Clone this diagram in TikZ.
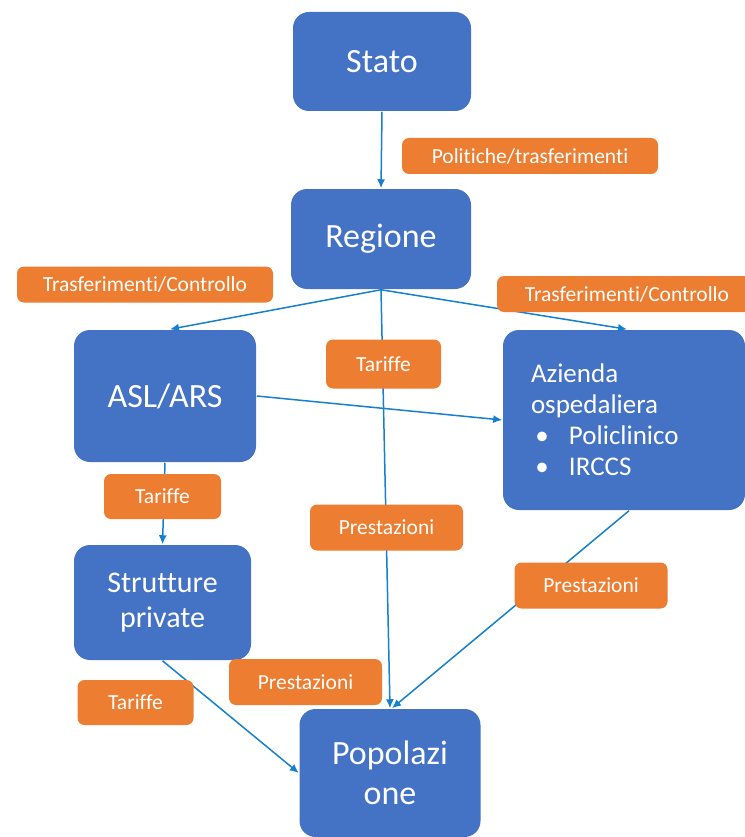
\documentclass[tikz,border=0pt]{standalone}
\usepackage{fontspec}
\setmainfont{Carlito}[Ligatures=NoCommon]
\usetikzlibrary{arrows.meta}
\definecolor{boxblue}{RGB}{68,114,196}
\definecolor{tagorange}{RGB}{237,125,49}
\definecolor{linkblue}{RGB}{22,128,206}

\begin{document}
\begin{tikzpicture}[x=1pt ,y=-1pt ,-{Latex[length=9pt,width=8pt]} ,
		line width=1.5pt ,
		entity/.style ={ rounded corners=16pt , fill=boxblue , text=white ,
			align=center , inner sep=0pt , font=\fontsize{34}{40}\selectfont},
		tag/.style ={ rounded corners=7pt , fill=tagorange , text=white ,
			inner sep=0pt , minimum height=36pt , font=\fontsize{21.5}{25}\selectfont}]
		\useasboundingbox (0,0) rectangle (744,837);
		\node[entity, minimum width=178pt, minimum height=99pt] (stato) at (382,61.5) {Stato};
		\node[entity, minimum width=180pt, minimum height=100pt] (regione) at (381,239) {Regione};
		\node[entity, minimum width=182pt, minimum height=132pt] (asl) at (165,396) {ASL/ARS};
		\node[entity, minimum width=242pt, minimum height=180pt, text width=186pt,
			inner xsep=28pt, align=left, font=\fontsize{27}{31}\selectfont] (azienda) at (624,420)
			{Azienda\\ospedaliera\\\makebox[22pt]{\textbullet}\hspace{16pt}Policlinico\\
			\makebox[22pt]{\textbullet}\hspace{16pt}IRCCS};
		\node[entity, minimum width=177pt, minimum height=115pt,
			font=\fontsize{30}{35}\selectfont] (strutture) at (162.5,602.5) {Strutture\\private};
		\node[entity, minimum width=181pt, minimum height=128pt] (popolazione) at (390,773) {Popolazi\\one};
		\draw[linkblue] (stato.south) -- (regione.north); % Stato to Regione
		\draw[linkblue] (regione.south) -- ([xshift=5pt]asl.north); % Regione to ASL
		\draw[linkblue] (regione.south) -- ([xshift=3pt]azienda.north); % Regione to Azienda
		\draw[linkblue] (regione.south) -- (popolazione.north); % Regione to Popolazione
		\draw[linkblue] (asl.east) -- (azienda.west); % ASL to Azienda
		\draw[linkblue] (asl.south) -- (strutture.north); % ASL to Strutture
		\draw[linkblue] ([xshift=5pt]azienda.south) -- ([xshift=2pt]popolazione.north); % Azienda to Popolazione
		\draw[linkblue] (strutture.south) -- (popolazione.west); % Strutture to Popolazione
		\node[tag, minimum width=256pt] (politiche) at (530,156) {Politiche/trasferimenti};
		\node[tag, minimum width=256pt] (trasfasl) at (145,284.5) {Trasferimenti/Controllo};
		\node[tag, minimum width=260pt] (trasfaz) at (627,294) {Trasferimenti/Controllo};
		\node[tag, minimum width=115pt, minimum height=49pt] (tariffereg) at (383.5,364) {Tariffe};
		\node[tag, minimum width=117pt, minimum height=45pt] (tariffeasl) at (162.5,496.5) {Tariffe};
		\node[tag, minimum width=153pt, minimum height=46pt] (prestreg) at (386.5,527.5) {Prestazioni};
		\node[tag, minimum width=153pt, minimum height=46pt] (prestaz) at (591,585.5) {Prestazioni};
		\node[tag, minimum width=153pt, minimum height=46pt] (prestpriv) at (305.5,682) {Prestazioni};
		\node[tag, minimum width=116pt, minimum height=45pt] (tariffepriv) at (135.5,702.5) {Tariffe};
		\end{tikzpicture}
\end{document}
